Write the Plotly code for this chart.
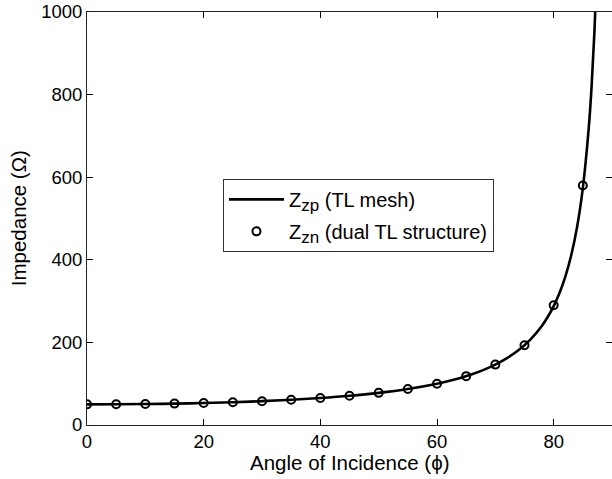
import plotly.graph_objects as go

# Line (TL mesh) values
line_angle = [0, 5, 10, 15, 20, 25, 30, 35, 40, 45, 50, 55, 60, 62, 64, 66, 68, 70, 72, 74, 76,
              78, 79, 80, 81, 82, 83, 84, 85, 86, 86.5, 87, 87.5, 88]
line_z = [50, 50.2, 50.8, 51.8, 53.2, 55.2, 57.7, 61.0, 65.3, 70.7, 77.8, 87.2, 100, 106.5,
          114.1, 122.9, 133.5, 146.2, 161.8, 181.4, 206.7, 240.5, 262.1, 287.9, 319.6, 359.3,
          410.3, 478.3, 573.7, 716.8, 819.4, 955.4, 1146.4, 1432.7]

# Markers (dual TL structure)
marker_angle = [0, 5, 10, 15, 20, 25, 30, 35, 40, 45, 50, 55, 60, 65, 70, 75, 80, 85]
marker_z = [50, 50.2, 50.8, 51.8, 53.2, 55.2, 57.7, 61.0, 65.3, 70.7, 77.8, 87.2, 100,
            118.3, 146.2, 193.2, 290, 580]

x_ticks = [0, 20, 40, 60, 80]
y_ticks = [0, 200, 400, 600, 800, 1000]
x_title = "Angle of Incidence (ϕ)"
y_title = "Impedance (Ω)"

font = "Liberation Sans, Arial, Helvetica, sans-serif"
FS = 18.5
TFS = 20.5
LFS = 20

fig = go.Figure()
fig.add_trace(go.Scatter(x=line_angle, y=line_z, mode="lines",
                         line=dict(color="black", width=2.6, shape="spline"),
                         legendgroup="a",
                         name="Z<sub><span style='font-size:17px'>zp</span></sub> (TL mesh)"))
fig.add_trace(go.Scatter(x=marker_angle, y=marker_z, mode="markers",
                         marker=dict(symbol="circle-open", size=8, color="black", line=dict(width=2)),
                         legendgroup="b",
                         name="Z<sub><span style='font-size:17px'>zn</span></sub> (dual TL structure)"))

axis_common = dict(showgrid=False, zeroline=False, showline=True, linecolor="#222", linewidth=1,
                   mirror="ticks", ticks="inside", ticklen=6, tickcolor="black", automargin=False,
                   tickfont=dict(size=FS, color="black", family=font))

fig.update_layout(
    width=612, height=479,
    margin=dict(l=87, r=0, t=12, b=54, autoexpand=False),
    paper_bgcolor="white", plot_bgcolor="white",
    font=dict(family=font, color="black"),
    xaxis=dict(range=[0, 90], tickvals=x_ticks, **axis_common),
    yaxis=dict(range=[0, 1000], tickvals=y_ticks, **axis_common),
    legend=dict(x=0.259, y=0.596, xanchor="left", yanchor="top", bordercolor="#333", borderwidth=1,
                bgcolor="white", font=dict(size=LFS, color="black", family=font), tracegroupgap=3,
                itemwidth=55),
    showlegend=True,
    annotations=[
        dict(text=x_title, xref="paper", yref="paper", x=0.5, y=-0.09, xanchor="center", yanchor="middle",
             showarrow=False, font=dict(size=TFS, family=font, color="black")),
        dict(text=y_title, xref="paper", yref="paper", x=-0.13, y=0.5, xanchor="center", yanchor="middle",
             textangle=-90, showarrow=False, font=dict(size=TFS, family=font, color="black")),
    ],
)

fig.write_html("out.html", config={"displayModeBar": False},
               post_script="document.body.style.margin='0px';")
